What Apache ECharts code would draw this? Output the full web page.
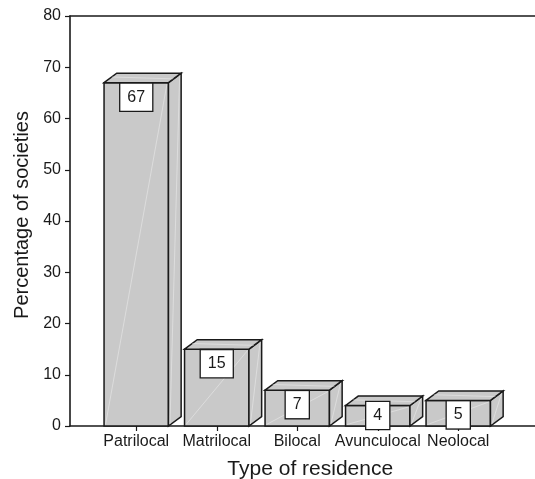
<!DOCTYPE html>
<html><head><meta charset="utf-8">
<script src="https://cdn.jsdelivr.net/npm/echarts@6/dist/echarts.min.js"></script>
<style>html,body{margin:0;padding:0;background:#fff}#c{width:535px;height:479px}</style>
</head><body><div id="c"></div>
<script>
const categories = ['Patrilocal', 'Matrilocal', 'Bilocal', 'Avunculocal', 'Neolocal'];
const values = [67, 15, 7, 4, 5];
const yMin = 0, yMax = 80, yStep = 10;
const xTitle = 'Type of residence';
const yTitle = 'Percentage of societies';

const FONT = '"Liberation Sans", Arial, Helvetica, sans-serif';
const INK = '#1a1a1a';
const chart = echarts.init(document.getElementById('c'), null, {renderer: 'canvas'});
const DX = 12.7, DY = 9.4;

function renderItem(params, api) {
  const i = api.value(0), v = api.value(1);
  const top = api.coord([i, v]);
  const base = api.coord([i, 0]);
  const band = api.size([1, 0])[0];
  const w = band * 0.8;
  const x0 = top[0] - w / 2, x1 = top[0] + w / 2, yT = top[1], yB = base[1];
  const fill = '#c9c9c9', lw = 1.5;
  const faint = {stroke: 'rgba(255,255,255,0.45)', lineWidth: 0.8};
  const boxTop = Math.min(yT + 1, yB - 24);
  return {
    type: 'group',
    children: [
      {type: 'rect', shape: {x: x0, y: yT, width: w, height: yB - yT}, style: {fill: fill, stroke: INK, lineWidth: lw}},
      {type: 'polygon', shape: {points: [[x1, yT], [x1 + DX, yT - DY], [x1 + DX, yB - DY], [x1, yB]]}, style: {fill: fill, stroke: INK, lineWidth: lw}},
      {type: 'polygon', shape: {points: [[x0, yT], [x0 + DX, yT - DY], [x1 + DX, yT - DY], [x1, yT]]}, style: {fill: fill, stroke: INK, lineWidth: lw}},
      {type: 'line', shape: {x1: x0 + 1.5, y1: yB - 1.5, x2: x1 - 1.5, y2: yT + 1.5}, style: faint},
      {type: 'line', shape: {x1: x1 + 1.5, y1: yB - 2, x2: x1 + DX - 1.5, y2: yT - DY + 2}, style: faint},
      {type: 'line', shape: {x1: x0 + DX * 0.6, y1: yT - DY * 0.6, x2: x1 + DX * 0.4, y2: yT - DY * 0.4}, style: faint},
      {type: 'text', x: top[0], y: boxTop, z2: 10,
        style: {text: String(v), align: 'center', verticalAlign: 'top', font: '16px ' + FONT, lineHeight: 17,
          fill: INK, backgroundColor: '#fff', borderColor: INK, borderWidth: 1.3, padding: [5, 7, 5, 7]}}
    ]
  };
}

const option = {
  animation: false,
  backgroundColor: '#fff',
  grid: [
    {left: 96, right: 36.5, top: 16, bottom: 53, containLabel: false, outerBoundsMode: 'none'},
    {left: 70, right: 0.5, top: 16, bottom: 53, containLabel: false, outerBoundsMode: 'none'}
  ],
  xAxis: [
    {type: 'category', gridIndex: 0, data: categories,
      axisLine: {show: false},
      axisTick: {show: true, alignWithLabel: true, length: 5, lineStyle: {color: INK, width: 1.2}},
      axisLabel: {interval: 0, margin: 8, color: INK, fontSize: 16, fontFamily: FONT},
      splitLine: {show: false},
      name: xTitle, nameLocation: 'middle', nameGap: 33,
      nameTextStyle: {fontSize: 21, fontFamily: FONT, color: INK, padding: [0, 0, 0, 26]}},
    {type: 'value', gridIndex: 1, min: 0, max: 1, position: 'bottom',
      axisLine: {show: true, onZero: false, lineStyle: {color: INK, width: 1.6}},
      axisTick: {show: false}, axisLabel: {show: false}, splitLine: {show: false}},
    {type: 'value', gridIndex: 1, min: 0, max: 1, position: 'top',
      axisLine: {show: true, onZero: false, lineStyle: {color: INK, width: 1.6}},
      axisTick: {show: false}, axisLabel: {show: false}, splitLine: {show: false}}
  ],
  yAxis: [
    {type: 'value', gridIndex: 0, min: yMin, max: yMax, show: false},
    {type: 'value', gridIndex: 1, min: yMin, max: yMax, interval: yStep,
      axisLine: {show: true, lineStyle: {color: INK, width: 1.6}},
      axisTick: {show: true, length: 5, lineStyle: {color: INK, width: 1.2}},
      axisLabel: {margin: 9, color: INK, fontSize: 16, fontFamily: FONT},
      splitLine: {show: false},
      name: yTitle, nameLocation: 'middle', nameGap: 37,
      nameTextStyle: {fontSize: 20, fontFamily: FONT, color: INK, padding: [0, 0, 0, 12]}}
  ],
  series: [{
    type: 'custom', xAxisIndex: 0, yAxisIndex: 0, z: 5,
    data: values.map((v, i) => [i, v]),
    renderItem: renderItem
  }]
};
chart.setOption(option);
</script>
</body></html>
